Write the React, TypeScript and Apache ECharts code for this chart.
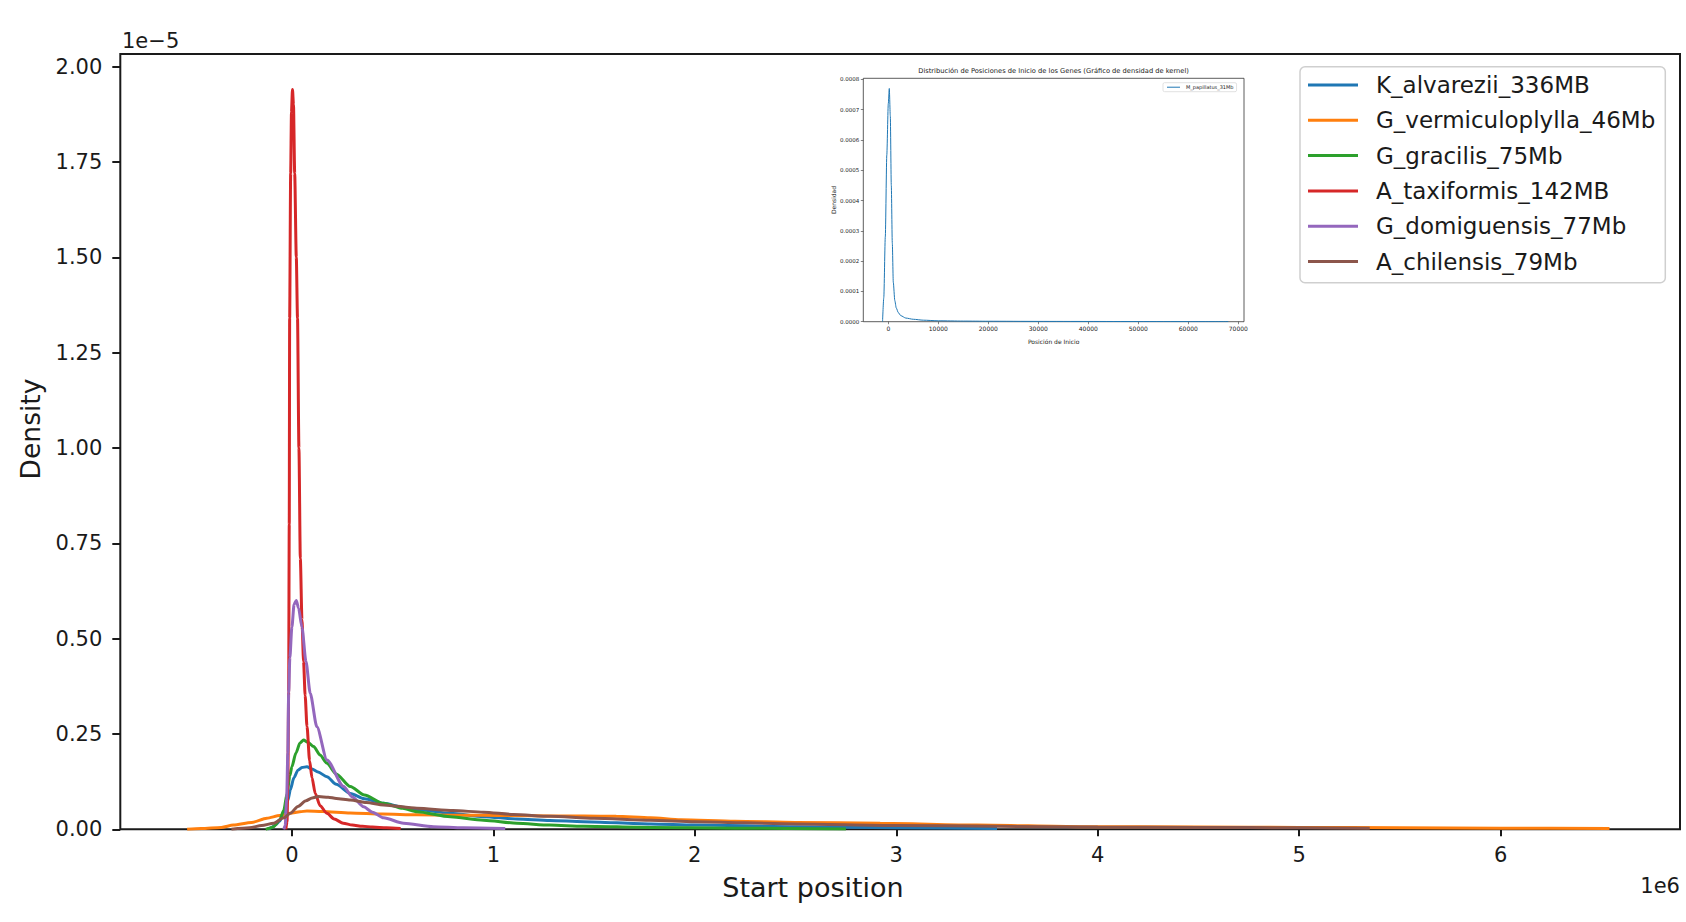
import React, { useEffect, useRef } from "react";
import * as echarts from "echarts";

// x in units of 1e6, y in units of 1e-5
const SERIES_NAMES = [
  "K_alvarezii_336MB",
  "G_vermiculoplylla_46Mb",
  "G_gracilis_75Mb",
  "A_taxiformis_142MB",
  "G_domiguensis_77Mb",
  "A_chilensis_79Mb",
];
const COLORS = ["#1f77b4", "#ff7f0e", "#2ca02c", "#d62728", "#9467bd", "#8c564b"];

const K_ALVAREZII: [number, number][] = [
  [-0.12, 0], [-0.1, 0.005], [-0.08, 0.012], [-0.06, 0.022], [-0.041, 0.042], [-0.02, 0.075],
  [-0.008, 0.103], [0.01, 0.135], [0.03, 0.155], [0.05, 0.162], [0.075, 0.164], [0.1, 0.158],
  [0.13, 0.15], [0.174, 0.138], [0.22, 0.118], [0.29, 0.094], [0.36, 0.08], [0.455, 0.068],
  [0.55, 0.058], [0.621, 0.052], [0.786, 0.042], [0.951, 0.033], [1.117, 0.027], [1.28, 0.023],
  [1.446, 0.02], [1.78, 0.014], [2.0, 0.011], [2.5, 0.007], [3.0, 0.004], [3.5, 0.002],
];
const G_VERMICULOPLYLLA: [number, number][] = [
  [-0.52, 0], [-0.45, 0.002], [-0.35, 0.005], [-0.29, 0.011], [-0.2, 0.018], [-0.124, 0.029],
  [-0.06, 0.036], [-0.008, 0.042], [0.04, 0.046], [0.075, 0.048], [0.15, 0.047], [0.29, 0.043],
  [0.45, 0.04], [0.621, 0.038], [0.8, 0.037], [0.951, 0.037], [1.1, 0.036], [1.28, 0.035],
  [1.45, 0.035], [1.61, 0.034], [1.78, 0.03], [1.93, 0.025], [2.2, 0.021], [2.5, 0.018],
  [2.92, 0.016], [3.4, 0.011], [3.91, 0.007], [4.5, 0.006], [5.0, 0.005], [5.5, 0.004],
  [6.0, 0.003], [6.54, 0.002],
];
const G_GRACILIS: [number, number][] = [
  [-0.13, 0], [-0.11, 0.003], [-0.09, 0.007], [-0.06, 0.025], [-0.04, 0.05], [-0.024, 0.094],
  [-0.01, 0.14], [0.0, 0.164], [0.02, 0.2], [0.04, 0.226], [0.058, 0.234], [0.08, 0.228],
  [0.108, 0.217], [0.14, 0.195], [0.174, 0.173], [0.22, 0.145], [0.29, 0.112], [0.36, 0.09],
  [0.455, 0.068], [0.55, 0.055], [0.621, 0.046], [0.786, 0.033], [0.951, 0.024], [1.117, 0.016],
  [1.28, 0.011], [1.446, 0.008], [1.78, 0.005], [2.2, 0.003], [2.75, 0.001],
];
const A_TAXIFORMIS: [number, number][] = [
  [-0.03, 0], [-0.024, 0.02], [-0.02, 0.12], [-0.016, 0.36], [-0.013, 0.8], [-0.011, 1.34],
  [-0.006, 1.72], [-0.002, 1.88], [0.003, 1.94], [0.008, 1.9], [0.014, 1.72], [0.022, 1.5],
  [0.028, 1.34], [0.035, 1.0], [0.042, 0.71], [0.05, 0.55], [0.058, 0.44], [0.066, 0.35],
  [0.075, 0.27], [0.088, 0.18], [0.1, 0.135], [0.116, 0.094], [0.14, 0.062], [0.174, 0.042],
  [0.21, 0.027], [0.255, 0.016], [0.3, 0.011], [0.35, 0.008], [0.4, 0.006], [0.47, 0.004],
  [0.54, 0.002],
];
const G_DOMIGUENSIS: [number, number][] = [
  [-0.04, 0], [-0.033, 0.01], [-0.026, 0.08], [-0.02, 0.2], [-0.016, 0.357], [-0.01, 0.45],
  [0.0, 0.53], [0.011, 0.59], [0.022, 0.6], [0.033, 0.58], [0.05, 0.53], [0.07, 0.44],
  [0.091, 0.357], [0.124, 0.269], [0.174, 0.182], [0.257, 0.112], [0.3, 0.085], [0.356, 0.059],
  [0.4, 0.045], [0.455, 0.03], [0.554, 0.016], [0.703, 0.007], [0.85, 0.004], [1.059, 0.002],
];
const A_CHILENSIS: [number, number][] = [
  [-0.3, 0], [-0.21, 0.004], [-0.15, 0.01], [-0.09, 0.016], [-0.04, 0.03], [-0.008, 0.042],
  [0.03, 0.06], [0.07, 0.075], [0.1, 0.082], [0.133, 0.086], [0.18, 0.084], [0.22, 0.081],
  [0.29, 0.077], [0.37, 0.07], [0.455, 0.064], [0.621, 0.055], [0.8, 0.049], [0.951, 0.045],
  [1.1, 0.039], [1.282, 0.034], [1.5, 0.029], [1.78, 0.024], [2.0, 0.02], [2.5, 0.014],
  [3.0, 0.01], [3.5, 0.008], [4.0, 0.006], [4.5, 0.005], [5.0, 0.004], [5.35, 0.003],
];
const SERIES_DATA = [K_ALVAREZII, G_VERMICULOPLYLLA, G_GRACILIS, A_TAXIFORMIS, G_DOMIGUENSIS, A_CHILENSIS];

const X_TICKS = [0, 1, 2, 3, 4, 5, 6];

// Inset: M_papillatus
const INSET_NAME = "M_papillatus_31Mb";
const INSET_X_TICKS = [0, 10000, 20000, 30000, 40000, 50000, 60000, 70000];
const M_PAPILLATUS: [number, number][] = [
  [-1150, 0], [-900, 0.00008], [-600, 0.00028], [-300, 0.00055], [0, 0.00072], [200, 0.00077],
  [400, 0.00068], [600, 0.00045], [800, 0.00026], [1000, 0.00013], [1300, 0.00007],
  [1600, 0.000045], [2000, 0.00003], [2500, 0.00002], [3500, 0.000012], [5000, 0.000008],
  [7000, 0.000005], [10000, 0.000003], [15000, 0.000002], [20000, 0.0000015], [30000, 0.000001],
  [40000, 0.0000008], [50000, 0.0000005], [60000, 0.0000003], [68000, 0.0000002],
];

const FONT = "'DejaVu Sans', sans-serif";
const INK = "#1a1a1a";

export default function App() {
  const ref = useRef<HTMLDivElement>(null);
  useEffect(() => {
    const chart = echarts.init(ref.current!, null, { renderer: "svg", width: 1686, height: 922 });
    const option: any = {
      animation: false,
      backgroundColor: "#ffffff",
      textStyle: { fontFamily: FONT },
      grid: [
        { left: 120.3, top: 54, right: 6, bottom: 92.7, show: true, borderColor: INK, borderWidth: 2, backgroundColor: "transparent" },
        { left: 863.3, top: 78.3, width: 380.7, height: 243.4, show: true, borderColor: "#333", borderWidth: 0.8, backgroundColor: "#fff" },
      ],
      xAxis: [
        {
          type: "value", gridIndex: 0, min: -0.8516, max: 6.89,
          axisLine: { show: false, onZero: false },
          splitLine: { show: false },
          axisTick: { show: true, length: 7, lineStyle: { color: INK, width: 2 }, customValues: X_TICKS },
          axisLabel: { customValues: X_TICKS, fontSize: 21, color: INK, margin: 15, fontFamily: FONT, formatter: (v: number) => String(Math.round(v)) },
        },
        {
          type: "value", gridIndex: 1, min: -5000, max: 71140,
          axisLine: { show: false, onZero: false },
          splitLine: { show: false },
          axisTick: { show: true, length: 2.5, lineStyle: { color: "#333", width: 0.6 }, customValues: INSET_X_TICKS },
          axisLabel: { customValues: INSET_X_TICKS, fontSize: 6, color: "#222", margin: 4, fontFamily: FONT, formatter: (v: number) => String(Math.round(v)) },
          name: "Posición de Inicio", nameLocation: "middle", nameGap: 17,
          nameTextStyle: { fontSize: 6, color: "#222", fontFamily: FONT },
        },
      ],
      yAxis: [
        {
          type: "value", gridIndex: 0, min: 0, max: 2.033, interval: 0.25,
          axisLine: { show: false, onZero: false },
          splitLine: { show: false },
          axisTick: { show: true, length: 8, lineStyle: { color: INK, width: 2 } },
          axisLabel: { fontSize: 21, color: INK, margin: 18, fontFamily: FONT, formatter: (v: number) => v.toFixed(2), showMaxLabel: false },
        },
        {
          type: "value", gridIndex: 1, min: 0, max: 0.0008036, interval: 0.0001,
          axisLine: { show: false, onZero: false },
          splitLine: { show: false },
          axisTick: { show: true, length: 2.5, lineStyle: { color: "#333", width: 0.6 } },
          axisLabel: { fontSize: 5.5, color: "#222", margin: 4, fontFamily: FONT, formatter: (v: number) => v.toFixed(4) },
          name: "Densidad", nameLocation: "middle", nameGap: 25,
          nameTextStyle: { fontSize: 6, color: "#222", fontFamily: FONT },
        },
      ],
      legend: [
        {
          data: SERIES_NAMES,
          orient: "vertical",
          left: 1300, top: 66.7,
          icon: "rect",
          itemWidth: 50, itemHeight: 3, itemGap: 9.3,
          padding: [5.3, 10, 8.3, 8],
          backgroundColor: "rgba(255,255,255,0.8)",
          borderColor: "#cfcfcf", borderWidth: 1.5, borderRadius: 5,
          textStyle: { fontSize: 23, lineHeight: 26, color: INK, fontFamily: FONT, padding: [0, 0, 0, 13] },
        },
        {
          data: [INSET_NAME],
          orient: "vertical",
          left: 1163, top: 82.7,
          icon: "rect",
          itemWidth: 13, itemHeight: 1,
          padding: [2, 3, 2, 4],
          backgroundColor: "#fff",
          borderColor: "#cfcfcf", borderWidth: 0.6, borderRadius: 1.5,
          textStyle: { fontSize: 5, color: "#222", fontFamily: FONT, padding: [0, 0, 0, 1] },
        },
      ],
      graphic: [
        { type: "text", left: 122, top: 30, style: { text: "1e\u22125", fontSize: 21, fill: INK, fontFamily: FONT } },
        { type: "text", x: 1680, y: 886, style: { text: "1e6", fontSize: 21, fill: INK, fontFamily: FONT, align: "right", verticalAlign: "middle" } },
        { type: "text", x: 813, y: 887, style: { text: "Start position", fontSize: 27, fill: INK, fontFamily: FONT, align: "center", verticalAlign: "middle" } },
        { type: "text", x: 30, y: 429, rotation: Math.PI / 2, style: { text: "Density", fontSize: 26.5, fill: INK, fontFamily: FONT, align: "center", verticalAlign: "middle" } },
        { type: "text", x: 1053.6, y: 70.7, style: { text: "Distribución de Posiciones de Inicio de los Genes (Gráfico de densidad de kernel)", fontSize: 6.7, fill: "#222", fontFamily: FONT, align: "center", verticalAlign: "middle" } },
      ],
      series: [
        ...SERIES_NAMES.map((name, i) => ({
          name,
          type: "line",
          xAxisIndex: 0, yAxisIndex: 0,
          data: SERIES_DATA[i],
          showSymbol: false, symbol: "none",
          smooth: 0.25, smoothMonotone: "x",
          color: COLORS[i],
          lineStyle: { width: 3, color: COLORS[i] },
          z: 2 + i,
        })),
        {
          name: INSET_NAME,
          type: "line",
          xAxisIndex: 1, yAxisIndex: 1,
          data: M_PAPILLATUS,
          showSymbol: false, symbol: "none",
          smooth: 0.25, smoothMonotone: "x",
          color: "#1f77b4",
          lineStyle: { width: 1, color: "#1f77b4" },
        },
      ],
    };
    chart.setOption(option);
    return () => chart.dispose();
  }, []);
  return <div ref={ref} style={{ position: "fixed", left: 0, top: 0, width: 1686, height: 922, background: "#fff" }} />;
}
